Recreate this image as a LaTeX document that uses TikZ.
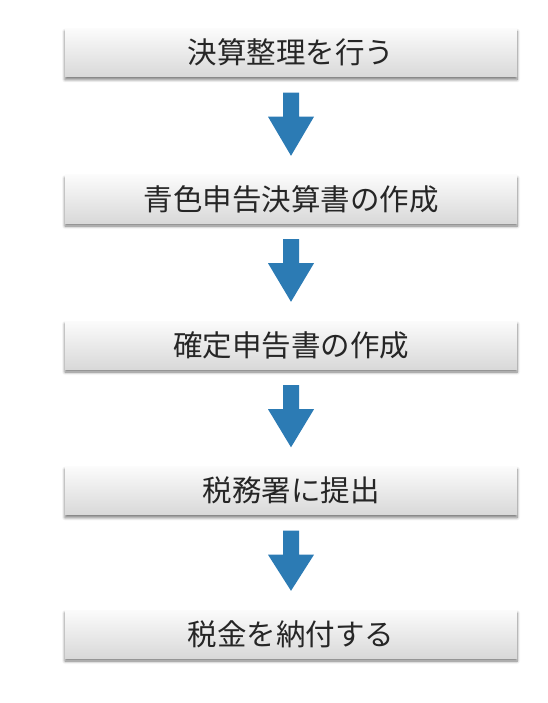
\documentclass[tikz,border=0pt]{standalone}
\usepackage{fontspec}
\newfontfamily\jpfont{Noto Sans CJK JP}
\usepackage{tikz}
\usetikzlibrary{positioning, calc, shadows.blur}
\definecolor{arrowblue}{HTML}{2C7BB4}

\begin{document}
\begin{tikzpicture}[
  x=1pt, y=-1pt,
  every node/.style={font=\jpfont\fontsize{29.5}{33}\selectfont, text=black!85},
  stepbox/.style={minimum width=452pt, minimum height=48pt, inner sep=0pt,
    top color=gray!3, bottom color=gray!30,
    blur shadow={shadow xshift=0pt, shadow yshift=-3pt, shadow blur radius=3pt,
      shadow blur steps=6, shadow opacity=55}}
]
\useasboundingbox (0,0) rectangle (547,703);
\node[stepbox] (s1) at (291,52.5) {決算整理を行う};
\node[stepbox] (s2) at (291,199) {青色申告決算書の作成};
\node[stepbox] (s3) at (291,345) {確定申告書の作成};
\node[stepbox] (s4) at (291,490.5) {税務署に提出};
\node[stepbox] (s5) at (291,634) {税金を納付する};
\def\blockarrow#1#2{%
  \fill[arrowblue] ($(#1.south)+(-8,16)$) -- ($(#1.south)+(8,16)$)
    -- ($(#1.south)+(8,40)$) -- ($(#1.south)+(23,40)$)
    -- ($(#2.north)+(0,-19)$)
    -- ($(#1.south)+(-23,40)$) -- ($(#1.south)+(-8,40)$) -- cycle;
}
\blockarrow{s1}{s2}
\blockarrow{s2}{s3}
\blockarrow{s3}{s4}
\blockarrow{s4}{s5}
\end{tikzpicture}
\end{document}
